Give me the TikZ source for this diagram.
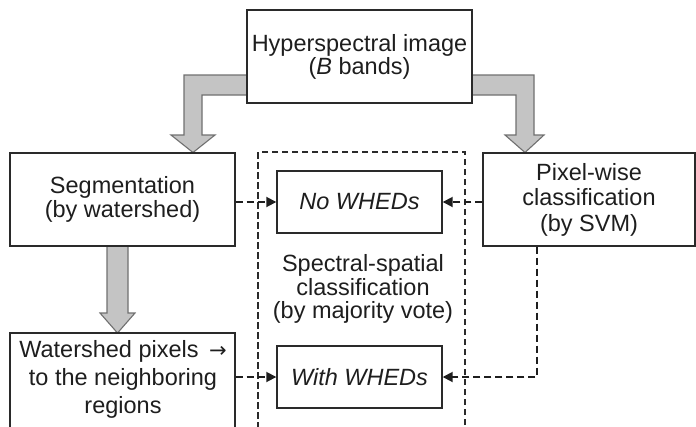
\documentclass[tikz,border=0pt]{standalone}
\usepackage{fontspec}
\setmainfont{Liberation Sans}
\newfontfamily\arrowfont{DejaVu Sans}
\usetikzlibrary{arrows.meta,calc}
\definecolor{ink}{HTML}{1E1E1E}
\definecolor{edge}{HTML}{2A2A2A}
\definecolor{blockfill}{HTML}{C4C4C4}
\definecolor{blockedge}{HTML}{707070}
\begin{document}
\begin{tikzpicture}[x=1pt,y=-1pt,
  box/.style={draw=edge, line width=1.4pt, fill=white, inner sep=0pt, align=center, text=ink},
  label text/.style={inner sep=0pt, align=center, text=ink},
  blockarrow/.style={fill=blockfill, draw=blockedge, line width=1.1pt, line join=miter},
  dashframe/.style={draw=edge, line width=1.2pt, dash pattern=on 6.5pt off 3.5pt},
  conn/.style={draw=ink, line width=1.8pt, dash pattern=on 7pt off 4pt,
    -{Triangle[length=10pt,width=10pt]}}]
\clip (0,0) rectangle (696,426);

% grouping frame of the spectral-spatial classification step
\draw[dashframe] (258,152) rectangle (465,440);

% broad grey flow arrows
\filldraw[blockarrow] (250,75) -- (184,75) -- (184,135) -- (171,135) -- (193,152.5)
  -- (215,135) -- (202,135) -- (202,95) -- (250,95) -- cycle;
\filldraw[blockarrow] (470,75) -- (534,75) -- (534,135) -- (544,135) -- (525,152.5)
  -- (505,135) -- (516,135) -- (516,95) -- (470,95) -- cycle;
\filldraw[blockarrow] (107,244) -- (107,313) -- (100,313) -- (117.5,333)
  -- (135,313) -- (128,313) -- (128,244) -- cycle;

% processing boxes
\node[box, minimum width=225pt, minimum height=93pt,
  font=\fontsize{23.5}{21.5}\selectfont] (hsi) at (359.5,56.5)
  {Hyperspectral image\\(\textit{B} bands)};
\node[box, minimum width=225pt, minimum height=93pt,
  font=\fontsize{23.5}{23.3}\selectfont] (seg) at (122.5,199.5)
  {Segmentation\\(by watershed)};
\node[box, minimum width=212pt, minimum height=93pt,
  font=\fontsize{23.5}{25.5}\selectfont] (pix) at (589,199.5)
  {Pixel-wise\\classification\\(by SVM)};
\node[box, minimum width=165pt, minimum height=62pt,
  font=\fontsize{23.5}{23}\selectfont\itshape] (now) at (359.5,202) {No WHEDs};
\node[box, minimum width=165pt, minimum height=62pt,
  font=\fontsize{23.5}{23}\selectfont\itshape] (withw) at (359.5,377) {With WHEDs};
\node[box, minimum width=225pt, minimum height=110pt] (wsp) at (122.5,388) {};
\node[label text, font=\fontsize{23.5}{28}\selectfont] (wsptext) at (123,379)
  {Watershed pixels \,{\arrowfont\fontsize{21}{21}\selectfont →}\\to the neighboring\\regions};
\node[label text, font=\fontsize{23.5}{23.2}\selectfont] (sst) at (363,289)
  {Spectral-spatial\\classification\\(by majority vote)};

% dashed data connectors
\coordinate (turn) at (537,0);
\draw[conn] (now.west -| seg.east) -- (now.west);
\draw[conn] (now.east -| pix.west) -- (now.east);
\draw[conn] (withw.west -| wsp.east) -- (withw.west);
\draw[conn] (pix.south -| turn) |- (withw.east);
\end{tikzpicture}
\end{document}
